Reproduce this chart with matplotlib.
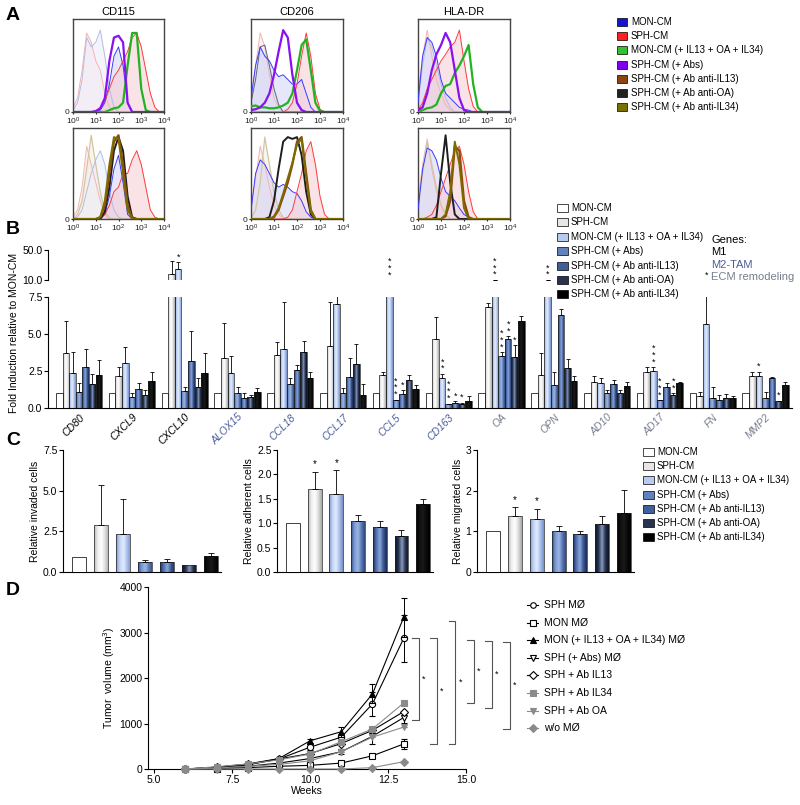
import numpy as np
import matplotlib
matplotlib.use("Agg")
import matplotlib.pyplot as plt
from matplotlib.colors import LinearSegmentedColormap
from matplotlib.patches import Rectangle
from matplotlib.lines import Line2D
from matplotlib.ticker import NullLocator

plt.rcParams['font.family'] = ['Liberation Sans', 'DejaVu Sans']

# ---------------- A : flow cytometry histograms ----------------
hist_log = [0.0, 0.2, 0.4, 0.6, 0.8, 1.0, 1.2, 1.4, 1.6, 1.8, 2.0,
            2.2, 2.4, 2.6, 2.8, 3.0, 3.2, 3.4, 3.6, 3.8, 4.0]

cd115_top = {
    'iso_pink': [0.05, 0.15, 0.45, 0.85, 0.75, 0.55, 0.45, 0.20, 0.05, 0, 0, 0, 0, 0, 0, 0, 0, 0, 0, 0, 0],
    'iso_blue': [0.02, 0.10, 0.35, 0.80, 0.70, 0.75, 0.88, 0.60, 0.25, 0.05, 0, 0, 0, 0, 0, 0, 0, 0, 0, 0, 0],
    'MON': [0, 0, 0, 0, 0, 0, 0.02, 0.10, 0.30, 0.60, 0.70, 0.50, 0.10, 0, 0, 0, 0, 0, 0, 0, 0],
    'SPH': [0, 0, 0, 0, 0, 0, 0.05, 0.12, 0.25, 0.38, 0.45, 0.55, 0.65, 0.80, 0.85, 0.70, 0.45, 0.20, 0.05, 0, 0],
    'green': [0, 0, 0, 0, 0, 0, 0, 0, 0.02, 0.04, 0.05, 0.10, 0.50, 0.85, 0.85, 0.25, 0.02, 0, 0, 0, 0],
    'purple': [0, 0, 0, 0, 0, 0.01, 0.04, 0.15, 0.55, 0.80, 0.82, 0.75, 0.10, 0, 0, 0, 0, 0, 0, 0, 0],
}
cd206_top = {
    'iso_pink': [0.10, 0.50, 0.85, 0.70, 0.40, 0.15, 0.05, 0, 0, 0, 0, 0, 0, 0, 0, 0, 0, 0, 0, 0, 0],
    'iso_slate': [0.10, 0.35, 0.70, 0.72, 0.50, 0.25, 0.08, 0, 0, 0, 0, 0, 0, 0, 0, 0, 0, 0, 0, 0, 0],
    'MON': [0.15, 0.50, 0.70, 0.60, 0.55, 0.45, 0.38, 0.40, 0.35, 0.30, 0.30, 0.35, 0.20, 0.05, 0, 0, 0, 0, 0, 0, 0],
    'SPH': [0, 0, 0, 0, 0, 0, 0, 0, 0.03, 0.10, 0.30, 0.60, 0.85, 0.60, 0.20, 0.03, 0, 0, 0, 0, 0],
    'green': [0.06, 0.07, 0.05, 0.05, 0.04, 0.04, 0.05, 0.07, 0.10, 0.20, 0.45, 0.72, 0.78, 0.45, 0.10, 0.01, 0, 0, 0, 0, 0],
    'purple': [0.02, 0.03, 0.05, 0.10, 0.20, 0.40, 0.65, 0.88, 0.80, 0.40, 0.10, 0.02, 0, 0, 0, 0, 0, 0, 0, 0, 0],
}
hladr_top = {
    'iso_pink': [0.20, 0.60, 0.88, 0.60, 0.35, 0.20, 0.08, 0.02, 0, 0, 0, 0, 0, 0, 0, 0, 0, 0, 0, 0, 0],
    'iso_blue': [0.10, 0.50, 0.80, 0.70, 0.50, 0.30, 0.15, 0.05, 0, 0, 0, 0, 0, 0, 0, 0, 0, 0, 0, 0, 0],
    'MON': [0.10, 0.60, 0.80, 0.75, 0.60, 0.35, 0.20, 0.15, 0.10, 0.05, 0.03, 0.02, 0, 0, 0, 0, 0, 0, 0, 0, 0],
    'SPH': [0.02, 0.10, 0.25, 0.35, 0.45, 0.55, 0.62, 0.70, 0.75, 0.88, 0.55, 0.25, 0.06, 0, 0, 0, 0, 0, 0, 0, 0],
    'green': [0, 0.02, 0.04, 0.05, 0.08, 0.20, 0.28, 0.30, 0.42, 0.50, 0.60, 0.72, 0.30, 0.05, 0, 0, 0, 0, 0, 0, 0],
    'purple': [0.02, 0.05, 0.20, 0.45, 0.62, 0.72, 0.85, 0.75, 0.45, 0.15, 0.02, 0, 0, 0, 0, 0, 0, 0, 0, 0, 0],
}
cd115_bot = {
    'iso_pink': [0.02, 0.10, 0.35, 0.80, 0.60, 0.40, 0.20, 0.05, 0, 0, 0, 0, 0, 0, 0, 0, 0, 0, 0, 0, 0],
    'iso_tan': [0, 0.05, 0.20, 0.55, 0.92, 0.60, 0.30, 0.08, 0.01, 0, 0, 0, 0, 0, 0, 0, 0, 0, 0, 0, 0],
    'iso_blue': [0, 0.02, 0.10, 0.30, 0.50, 0.65, 0.75, 0.60, 0.30, 0.10, 0.02, 0, 0, 0, 0, 0, 0, 0, 0, 0, 0],
    'MON': [0, 0, 0, 0, 0, 0, 0, 0.05, 0.25, 0.55, 0.70, 0.40, 0.05, 0, 0, 0, 0, 0, 0, 0, 0],
    'SPH': [0, 0, 0, 0, 0, 0, 0.02, 0.05, 0.15, 0.30, 0.35, 0.50, 0.50, 0.65, 0.75, 0.60, 0.35, 0.10, 0.02, 0, 0],
    'brown': [0, 0, 0, 0, 0, 0, 0.02, 0.15, 0.50, 0.85, 0.92, 0.60, 0.15, 0.01, 0, 0, 0, 0, 0, 0, 0],
    'black': [0, 0, 0, 0, 0, 0, 0, 0.08, 0.35, 0.75, 0.90, 0.75, 0.25, 0.02, 0, 0, 0, 0, 0, 0, 0],
    'olive': [0, 0, 0, 0, 0, 0, 0.02, 0.20, 0.60, 0.90, 0.88, 0.50, 0.10, 0, 0, 0, 0, 0, 0, 0, 0],
}
cd206_bot = {
    'iso_pink': [0.10, 0.45, 0.80, 0.60, 0.35, 0.15, 0.05, 0, 0, 0, 0, 0, 0, 0, 0, 0, 0, 0, 0, 0, 0],
    'iso_tan': [0, 0.10, 0.40, 0.90, 0.60, 0.30, 0.10, 0.02, 0, 0, 0, 0, 0, 0, 0, 0, 0, 0, 0, 0, 0],
    'MON': [0.10, 0.50, 0.65, 0.60, 0.50, 0.40, 0.35, 0.38, 0.35, 0.30, 0.28, 0.20, 0.08, 0.02, 0, 0, 0, 0, 0, 0, 0],
    'SPH': [0, 0, 0, 0, 0, 0, 0, 0, 0.02, 0.10, 0.30, 0.50, 0.75, 0.85, 0.60, 0.25, 0.05, 0, 0, 0, 0],
    'black': [0, 0, 0, 0, 0.02, 0.20, 0.55, 0.85, 0.90, 0.88, 0.90, 0.70, 0.30, 0.05, 0, 0, 0, 0, 0, 0, 0],
    'brown': [0, 0, 0, 0, 0, 0.02, 0.10, 0.25, 0.40, 0.60, 0.85, 0.90, 0.50, 0.10, 0, 0, 0, 0, 0, 0, 0],
    'olive': [0, 0, 0, 0, 0, 0.03, 0.12, 0.28, 0.45, 0.62, 0.82, 0.88, 0.45, 0.08, 0, 0, 0, 0, 0, 0, 0],
}
hladr_bot = {
    'iso_pink': [0.20, 0.60, 0.88, 0.55, 0.30, 0.15, 0.05, 0, 0, 0, 0, 0, 0, 0, 0, 0, 0, 0, 0, 0, 0],
    'iso_tan': [0.10, 0.50, 0.85, 0.60, 0.35, 0.15, 0.05, 0, 0, 0, 0, 0, 0, 0, 0, 0, 0, 0, 0, 0, 0],
    'MON': [0.10, 0.55, 0.78, 0.75, 0.65, 0.45, 0.30, 0.25, 0.20, 0.12, 0.05, 0.02, 0, 0, 0, 0, 0, 0, 0, 0, 0],
    'SPH': [0, 0, 0.02, 0.05, 0.15, 0.30, 0.45, 0.60, 0.75, 0.80, 0.60, 0.30, 0.08, 0, 0, 0, 0, 0, 0, 0, 0],
    'black': [0, 0, 0, 0, 0.02, 0.50, 0.92, 0.40, 0.05, 0, 0, 0, 0, 0, 0, 0, 0, 0, 0, 0, 0],
    'brown': [0, 0, 0, 0, 0, 0, 0.03, 0.20, 0.80, 0.75, 0.20, 0.02, 0, 0, 0, 0, 0, 0, 0, 0, 0],
    'olive': [0, 0, 0, 0, 0, 0, 0.05, 0.30, 0.85, 0.60, 0.12, 0, 0, 0, 0, 0, 0, 0, 0, 0, 0],
}
markers_A = ['CD115', 'CD206', 'HLA-DR']
legend_A = ['MON-CM', 'SPH-CM', 'MON-CM (+ IL13 + OA + IL34)', 'SPH-CM (+ Abs)',
            'SPH-CM (+ Ab anti-IL13)', 'SPH-CM (+ Ab anti-OA)', 'SPH-CM (+ Ab anti-IL34)']

# ---------------- B : qPCR fold induction ----------------
genes = ['CD80', 'CXCL9', 'CXCL10', 'ALOX15', 'CCL18', 'CCL17', 'CCL5',
         'CD163', 'OA', 'OPN', 'AD10', 'AD17', 'FN', 'MMP2']
gene_group = ['M1'] * 3 + ['M2-TAM'] * 5 + ['ECM remodeling'] * 6
conditions = ['MON-CM', 'SPH-CM', 'MON-CM (+ IL13 + OA + IL34)', 'SPH-CM (+ Abs)',
              'SPH-CM (+ Ab anti-IL13)', 'SPH-CM (+ Ab anti-OA)', 'SPH-CM (+ Ab anti-IL34)']
b_vals = [
    [1.0] * 14,
    [3.7, 2.15, 17.6, 3.4, 3.6, 4.2, 2.2, 4.65, 6.85, 2.2, 1.78, 2.45, 0.8, 2.15],
    [2.35, 3.05, 24.2, 2.35, 4.0, 7.0, 9.0, 2.05, 10.2, 10.2, 1.71, 2.5, 5.68, 2.15],
    [1.05, 0.75, 1.15, 1.0, 1.65, 1.0, 0.55, 0.3, 3.5, 1.55, 0.99, 0.54, 0.65, 0.65],
    [2.8, 1.25, 3.2, 0.7, 2.55, 2.1, 0.92, 0.35, 4.64, 6.28, 1.62, 1.44, 0.54, 2.05],
    [1.6, 0.85, 1.4, 0.75, 3.75, 3.0, 1.9, 0.3, 3.47, 2.72, 0.99, 0.88, 0.65, 0.5],
    [2.2, 1.8, 2.35, 1.05, 2.05, 0.9, 1.28, 0.5, 5.9, 1.85, 1.49, 1.67, 0.65, 1.55],
]
b_errs = [
    [0.0] * 14,
    [2.2, 0.65, 18.1, 2.35, 0.85, 2.95, 0.25, 1.5, 0.25, 1.5, 0.38, 0.3, 0.3, 0.3],
    [1.45, 1.05, 9.4, 1.15, 3.15, 1.5, 0.0, 0.25, 0.4, 0.4, 0.3, 0.25, 2.4, 0.3],
    [0.65, 0.25, 0.3, 0.45, 0.35, 0.35, 0.0, 0.0, 0.25, 0.9, 0.2, 0.0, 0.75, 0.45],
    [1.2, 0.45, 2.0, 0.3, 0.35, 1.3, 0.28, 0.1, 0.22, 0.42, 0.28, 0.23, 0.34, 0.03],
    [0.7, 0.35, 0.65, 0.15, 0.75, 1.3, 0.3, 0.05, 0.78, 0.58, 0.21, 0.12, 0.3, 0.0],
    [1.05, 0.6, 1.35, 0.3, 0.35, 0.75, 0.27, 0.3, 0.34, 0.33, 0.24, 0.06, 0.18, 0.23],
]
# (gene index, condition index, number of stars)
b_stars = [(2, 2, 1), (6, 2, 3), (6, 3, 3), (6, 4, 1), (7, 2, 2), (7, 3, 3), (7, 4, 1),
           (7, 5, 1), (8, 2, 3), (8, 3, 3), (8, 4, 2), (8, 5, 1), (9, 2, 2), (11, 2, 3),
           (11, 3, 3), (11, 5, 2), (12, 2, 1), (13, 2, 1), (13, 5, 1)]

# ---------------- C : functional assays ----------------
invaded = [0.94, 2.86, 2.33, 0.61, 0.61, 0.41, 1.0]
invaded_err = [0, 2.5, 2.17, 0.11, 0.19, 0.0, 0.17]
adherent = [1.0, 1.71, 1.59, 1.05, 0.92, 0.73, 1.40]
adherent_err = [0, 0.34, 0.49, 0.11, 0.13, 0.13, 0.09]
migrated = [1.0, 1.37, 1.30, 1.0, 0.93, 1.17, 1.45]
migrated_err = [0, 0.22, 0.25, 0.14, 0.08, 0.20, 0.57]
c_stars = [[], [1, 2], [1, 2]]

# ---------------- D : tumour growth ----------------
weeks = [6, 7, 8, 9, 10, 11, 12, 13]
d_labels = ['SPH MØ', 'MON MØ', 'MON (+ IL13 + OA + IL34) MØ', 'SPH (+ Abs) MØ',
            'SPH + Ab IL13', 'SPH + Ab IL34', 'SPH + Ab OA', 'w/o MØ']
d_vals = [
    [0, 30, 90, 220, 480, 700, 1430, 2870],
    [0, 10, 30, 60, 80, 130, 290, 550],
    [0, 40, 110, 230, 620, 820, 1650, 3330],
    [0, 20, 60, 130, 230, 380, 720, 1130],
    [0, 40, 100, 220, 340, 560, 850, 1260],
    [0, 50, 110, 200, 330, 600, 880, 1450],
    [0, 20, 60, 100, 180, 380, 700, 920],
    [0, 0, 0, 0, 0, 0, 30, 160],
]
d_errs = [
    [0, 10, 20, 30, 60, 80, 270, 510],
    [0, 0, 0, 10, 10, 20, 30, 110],
    [0, 10, 20, 30, 40, 110, 210, 430],
    [0, 5, 10, 20, 30, 50, 160, 120],
    [0, 0, 0, 0, 0, 0, 0, 0],
    [0, 0, 0, 0, 0, 0, 0, 0],
    [0, 0, 0, 0, 0, 0, 0, 0],
    [0, 0, 0, 0, 0, 0, 0, 0],
]
d_brackets = [(2870, 1080), (2870, 550), (3260, 560), (2830, 1450), (2816, 1340), (2800, 880)]

# ---------------- styles ----------------
hist_style = {  # colour, linewidth, fill colour, zorder
    'iso_pink': ('#f3b4b4', 0.7, '#fbe4e4', 2),
    'iso_blue': ('#b4bce4', 0.7, '#eceefa', 2),
    'iso_slate': ('#5a6878', 0.7, '#e4e8f2', 2),
    'iso_tan': ('#d2c6a0', 0.9, '#f2eee0', 2),
    'MON': ('#3a3aff', 0.7, '#d4d4fa', 3),
    'SPH': ('#ff3a3a', 0.7, '#f6ccd2', 3),
    'green': ('#22b322', 1.6, None, 5),
    'purple': ('#8a10f0', 1.6, None, 6),
    'brown': ('#8b4a10', 1.6, None, 6),
    'black': ('#1e1e1e', 1.4, None, 5),
    'olive': ('#7c6c00', 1.4, None, 7),
}
legend_A_colors = ['#1515d0', '#ff2020', '#33c033', '#8000ee', '#8b4513', '#222222', '#7a7000']
bar_grads = [
    None,
    ['#b8b8b8', '#efefef', '#ffffff', '#dcdcdc', '#a8a8a8'],
    ['#7f98cc', '#c4d4f2', '#e2ecff', '#a9c0ec', '#7890c6'],
    ['#34508c', '#7c9cd2', '#9cb6e6', '#5878b4', '#2e4880'],
    ['#1e3060', '#5674b0', '#8aa6dc', '#3a5690', '#1a2a58'],
    ['#0c1224', '#25344f', '#8a9ac0', '#26344f', '#0a1020'],
    ['#000000', '#101010', '#1a1a1a', '#0a0a0a', '#000000'],
]
legend_bar_colors = ['white', '#e6e6e6', '#b8cbef', '#6282be', '#40609c', '#28344f', 'black']
group_colors = {'M1': 'black', 'M2-TAM': '#4a5c9c', 'ECM remodeling': '#777d8e'}

W, H = 800, 805
fig = plt.figure(figsize=(W / 100, H / 100), dpi=100)


def px_axes(x0, y0, x1, y1):
    return fig.add_axes([x0 / W, 1 - y1 / H, (x1 - x0) / W, (y1 - y0) / H])


def fx(x):
    return x / W


def fy(y):
    return 1 - y / H


# ---- panel A ----
xs_hist = np.power(10.0, hist_log)
hist_panels = [[cd115_top, cd206_top, hladr_top], [cd115_bot, cd206_bot, hladr_bot]]
col_x = [(73, 164), (251, 343), (418, 510)]
row_y = [(19, 112), (128, 219)]
for r in range(2):
    for c in range(3):
        ax = px_axes(col_x[c][0], row_y[r][0], col_x[c][1], row_y[r][1])
        curves = hist_panels[r][c]
        for key, ys in curves.items():
            color, lw, fill, z = hist_style[key]
            if fill:
                ax.fill_between(xs_hist, ys, color=fill, alpha=0.55, lw=0, zorder=1)
        for key, ys in curves.items():
            color, lw, fill, z = hist_style[key]
            ax.plot(xs_hist, ys, color=color, lw=lw, zorder=z)
        ax.set_xscale('log')
        ax.set_xlim(1, 1e4)
        ax.set_ylim(0, 1.0)
        ax.set_xticks([1, 10, 100, 1000, 10000])
        ax.xaxis.set_minor_locator(NullLocator())
        ax.set_yticks([0])
        ax.set_yticklabels(['0'])
        ax.tick_params(length=1.5, labelsize=6, pad=1, colors='#222')
        for sp in ax.spines.values():
            sp.set_color('#444')
            sp.set_linewidth(1.0)
        if r == 0:
            ax.set_title(markers_A[c], fontsize=8, pad=3)

for i, lab in enumerate(legend_A):
    y = 22 + i * 14.2
    fig.add_artist(Rectangle((fx(617), fy(y + 4)), 10 / W, 8 / H, transform=fig.transFigure,
                             facecolor=legend_A_colors[i], edgecolor='black', lw=0.5))
    fig.text(fx(631), fy(y), lab, fontsize=7, va='center')

# ---- gradient bars helper ----
grad = np.linspace(0, 1, 64).reshape(1, -1)


def grad_bars(ax, x, h, w, s):
    if bar_grads[s] is None:
        bars = ax.bar(x, h, w, color='white', edgecolor='#222', lw=0.6, zorder=3)
        return bars
    bars = ax.bar(x, h, w, color='none', edgecolor='#222', lw=0.5, zorder=3)
    cmap = LinearSegmentedColormap.from_list('g%d' % s, bar_grads[s])
    for b in bars:
        x0, y0, bw_, bh = b.get_x(), b.get_y(), b.get_width(), b.get_height()
        im = ax.imshow(grad, cmap=cmap, extent=[x0, x0 + bw_, y0, y0 + bh],
                       aspect='auto', zorder=2, interpolation='bilinear')
        # clip to the bar outline while keeping the axes clip box
        im.set_clip_path(b.get_path(), b.get_transform())
    return bars


# ---- panel B ----
axB_top = px_axes(48, 250, 792, 280)
axB_bot = px_axes(48, 297, 792, 408)
bw = 0.125
gx = np.arange(len(genes))
for s in range(7):
    x = gx + (s - 3) * bw
    for ax in (axB_top, axB_bot):
        grad_bars(ax, x, b_vals[s], bw, s)
        if s > 0:
            ax.errorbar(x, b_vals[s], yerr=[np.zeros(len(genes)), b_errs[s]], fmt='none',
                        ecolor='black', elinewidth=0.6, capsize=1.6, capthick=0.6, zorder=4)
for ax in (axB_top, axB_bot):
    ax.set_xlim(-0.59, 13.5)
    ax.spines['top'].set_visible(False)
    ax.spines['right'].set_visible(False)
    ax.tick_params(labelsize=7.5, length=3, width=0.8, pad=1)
axB_top.set_ylim(10, 50)
axB_top.set_yticks([10, 50])
axB_top.set_yticklabels(['10.0', '50.0'])
axB_top.spines['bottom'].set_visible(False)
axB_top.set_xticks([])
axB_bot.set_ylim(0, 7.5)
axB_bot.set_yticks([0, 2.5, 5.0, 7.5])
axB_bot.set_yticklabels(['0.0', '2.5', '5.0', '7.5'])
axB_bot.set_xticks(gx)
axB_bot.set_xticklabels(genes, rotation=45, ha='right', rotation_mode='anchor',
                        style='italic', fontsize=7.5)
axB_bot.tick_params(axis='x', length=0, pad=3)
for lab, grp in zip(axB_bot.get_xticklabels(), gene_group):
    lab.set_color(group_colors[grp])

for g, s, n in b_stars:
    x = g + (s - 3) * bw
    top = b_vals[s][g] + b_errs[s][g]
    txt = '\n'.join(['*'] * n)
    if top > 7.5:
        axB_top.text(x, max(top, 10) + 0.5, txt, ha='center', va='bottom', fontsize=6.5,
                     linespacing=0.7, clip_on=False)
    else:
        axB_bot.text(x, top + 0.05, txt, ha='center', va='bottom', fontsize=6.5,
                     linespacing=0.7, clip_on=False)

fig.text(fx(14), fy(333), 'Fold Induction relative to MON-CM', rotation=90,
         ha='center', va='center', fontsize=7.5)

for i, lab in enumerate(conditions):
    y = 208 + i * 14.4
    fig.add_artist(Rectangle((fx(557), fy(y + 4)), 11 / W, 8 / H, transform=fig.transFigure,
                             facecolor=legend_bar_colors[i], edgecolor='black', lw=0.5))
    fig.text(fx(571), fy(y), lab, fontsize=7, va='center')
fig.text(fx(711), fy(240), 'Genes:', fontsize=8, va='center')
for i, grp in enumerate(['M1', 'M2-TAM', 'ECM remodeling']):
    fig.text(fx(711), fy(252 + i * 12.5), grp, fontsize=8, va='center', color=group_colors[grp])

# ---- panel C ----
c_data = [(invaded, invaded_err, 7.5, [0, 2.5, 5.0, 7.5], ['0.0', '2.5', '5.0', '7.5'],
           'Relative invaded cells'),
          (adherent, adherent_err, 2.5, [0, 0.5, 1.0, 1.5, 2.0, 2.5],
           ['0.0', '0.5', '1.0', '1.5', '2.0', '2.5'], 'Relative adherent cells'),
          (migrated, migrated_err, 3, [0, 1, 2, 3], ['0', '1', '2', '3'],
           'Relative migrated cells')]
c_x = [(63, 221), (277, 433), (477, 634)]
for k, (vals, errs, ymax, yt, ytl, ylab) in enumerate(c_data):
    ax = px_axes(c_x[k][0], 450, c_x[k][1], 572)
    xi = np.arange(7)
    for s in range(7):
        grad_bars(ax, [xi[s]], [vals[s]], 0.64, s)
        if errs[s] > 0:
            ax.errorbar([xi[s]], [vals[s]], yerr=[[0], [errs[s]]], fmt='none', ecolor='black',
                        elinewidth=0.6, capsize=2.2, capthick=0.6, zorder=4)
    for s in c_stars[k]:
        ax.text(xi[s], vals[s] + errs[s] + ymax * 0.02, '*', ha='center', va='bottom', fontsize=7)
    ax.set_xlim(-0.73, 6.45)
    ax.set_ylim(0, ymax)
    ax.set_yticks(yt)
    ax.set_yticklabels(ytl)
    ax.set_xticks([])
    ax.spines['top'].set_visible(False)
    ax.spines['right'].set_visible(False)
    ax.tick_params(labelsize=7.5, length=3, width=0.8, pad=1)
    ax.set_ylabel(ylab, fontsize=7.5, labelpad=2)

for i, lab in enumerate(conditions):
    y = 452 + i * 14.2
    fig.add_artist(Rectangle((fx(643), fy(y + 4)), 11 / W, 8 / H, transform=fig.transFigure,
                             facecolor=legend_bar_colors[i], edgecolor='black', lw=0.5))
    fig.text(fx(657), fy(y), lab, fontsize=7, va='center')

# ---- panel D ----
axD = px_axes(148, 587, 466, 769)
d_style = [('o', 'white', 'black', 'black'), ('s', 'white', 'black', 'black'),
           ('^', 'black', 'black', 'black'), ('v', 'white', 'black', 'black'),
           ('D', 'white', 'black', 'black'), ('s', '#8a8a8a', '#8a8a8a', '#8a8a8a'),
           ('v', '#8a8a8a', '#8a8a8a', '#8a8a8a'), ('D', '#8a8a8a', '#8a8a8a', '#8a8a8a')]
d_order = [7, 6, 5, 1, 3, 4, 0, 2]
for i in d_order:
    mk, mfc, mec, lc = d_style[i]
    ms = 4.5 if mk != 'D' else 4
    axD.errorbar(weeks, d_vals[i], yerr=d_errs[i], color=lc, lw=0.8, marker=mk, ms=ms,
                 mfc=mfc, mec=mec, mew=0.8, ecolor=lc, elinewidth=0.7, capsize=2,
                 capthick=0.7, clip_on=False, zorder=3 + i)
axD.set_xlim(4.8, 15)
axD.set_ylim(0, 4000)
axD.set_xticks([5, 7.5, 10, 12.5, 15])
axD.set_xticklabels(['5.0', '7.5', '10.0', '12.5', '15.0'])
axD.set_yticks([0, 1000, 2000, 3000, 4000])
axD.spines['top'].set_visible(False)
axD.spines['right'].set_visible(False)
axD.tick_params(labelsize=7.5, length=3, width=0.8, pad=1)
axD.set_xlabel('Weeks', fontsize=7.5, labelpad=1)
axD.set_ylabel('Tumor  volume (mm$^3$)', fontsize=7.5, labelpad=2)
for j, (top, bot) in enumerate(d_brackets):
    xb = 13.49 + 0.585 * j
    axD.plot([xb - 0.22, xb, xb, xb - 0.22], [top, top, bot, bot], color='#555', lw=0.8,
             clip_on=False)
    axD.text(xb + 0.1, (top + bot) / 2, '*', fontsize=6.5, va='center', ha='left')

for i, lab in enumerate(d_labels):
    y = 605 + i * 17.6
    mk, mfc, mec, lc = d_style[i]
    fig.add_artist(Line2D([fx(527), fx(538)], [fy(y), fy(y)], transform=fig.transFigure,
                          color=lc, lw=0.8))
    fig.add_artist(Line2D([fx(532.5)], [fy(y)], transform=fig.transFigure, marker=mk,
                          ms=4, mfc=mfc, mec=mec, mew=0.8, ls='none'))
    fig.text(fx(544), fy(y), lab, fontsize=7.5, va='center')

# panel letters
for letter, y in [('A', 15), ('B', 230), ('C', 440), ('D', 590)]:
    fig.text(fx(6), fy(y), letter, fontsize=14, fontweight='bold', va='center')

fig.savefig('out.png', dpi=100)
